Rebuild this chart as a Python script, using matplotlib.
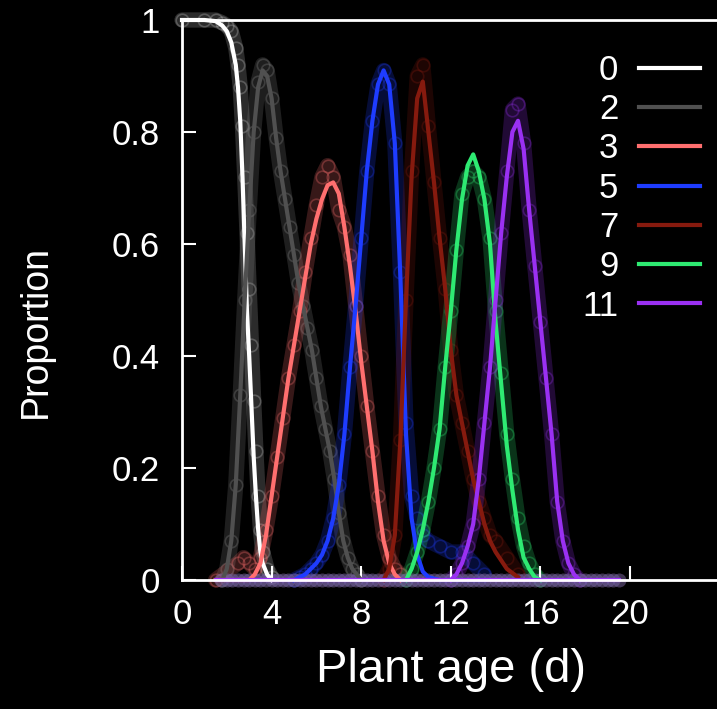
import numpy as np
import matplotlib.pyplot as plt
from matplotlib.lines import Line2D

plt.rcParams['font.family'] = ['Liberation Sans', 'DejaVu Sans']

# Clases de hoja y colores
clases = ['0', '2', '3', '5', '7', '9', '11']
colores = ['#ffffff', '#505050', '#ff6f6f', '#1e3cff', '#861a0e', '#2eea72', '#9a30f2']
colores_puntos = ['#c8c8c8', '#8a8a8a', '#ff6f6f', '#1e3cff', '#861a0e', '#2eea72', '#9a30f2']

# Clase 0
edad_0 = [0, 1.0, 1.5, 1.8, 2.0, 2.2, 2.4, 2.5, 2.6, 2.7, 2.8, 2.9, 3.0, 3.1, 3.2, 3.3, 3.4, 3.5, 3.6, 3.8, 4.0]
ajuste_0 = [1.0, 1.0, 0.998, 0.99, 0.98, 0.96, 0.92, 0.88, 0.82, 0.72, 0.60, 0.48, 0.40, 0.31, 0.22, 0.15, 0.09, 0.05, 0.03, 0.01, 0.0]
puntos_0 = [1.0, 1.0, 1.0, 0.995, 0.99, 0.98, 0.95, 0.92, 0.88, 0.81, 0.72, 0.62, 0.52, 0.42, 0.32, 0.23, 0.15, 0.09, 0.05, 0.02, 0.005]

# Clase 2
edad_2 = [1.8, 2.0, 2.2, 2.4, 2.6, 2.8, 3.0, 3.2, 3.4, 3.6, 3.8, 4.0, 4.2, 4.4, 4.6, 4.8, 5.0, 5.2,
          5.4, 5.6, 5.8, 6.0, 6.2, 6.4, 6.6, 6.8, 7.0, 7.2, 7.4, 7.6, 7.8, 8.0]
ajuste_2 = [0.0, 0.02, 0.07, 0.17, 0.33, 0.5, 0.66, 0.8, 0.88, 0.91, 0.9, 0.86, 0.79, 0.73, 0.68, 0.63, 0.58, 0.53,
            0.49, 0.45, 0.41, 0.36, 0.31, 0.27, 0.23, 0.18, 0.12, 0.07, 0.04, 0.02, 0.01, 0.0]
puntos_2 = [0.0, 0.02, 0.07, 0.17, 0.33, 0.5, 0.66, 0.8, 0.89, 0.92, 0.91, 0.86, 0.79, 0.73, 0.68, 0.63, 0.58, 0.53,
            0.49, 0.45, 0.41, 0.36, 0.31, 0.27, 0.23, 0.18, 0.12, 0.07, 0.04, 0.02, 0.01, 0.0]

# Clase 3
edad_3 = [1.5, 2.5, 2.75, 3.0, 3.25, 3.5, 3.75, 4.0, 4.25, 4.5, 4.75, 5.0, 5.25, 5.5, 5.75, 6.0, 6.25, 6.5, 6.75,
          7.0, 7.25, 7.5, 7.75, 8.0, 8.25, 8.5, 8.75, 9.0, 9.25, 9.5, 9.75]
ajuste_3 = [0.0, 0.0, 0.0, 0.0, 0.01, 0.03, 0.08, 0.15, 0.22, 0.29, 0.36, 0.42, 0.48, 0.54, 0.60, 0.645, 0.68, 0.705, 0.71,
            0.69, 0.63, 0.56, 0.48, 0.39, 0.31, 0.23, 0.14, 0.07, 0.03, 0.01, 0.0]
puntos_3 = [0.0, 0.03, 0.04, 0.03, 0.02, 0.04, 0.09, 0.15, 0.22, 0.29, 0.36, 0.42, 0.48, 0.55, 0.61, 0.67, 0.72, 0.74, 0.72,
            0.66, 0.63, 0.58, 0.49, 0.40, 0.31, 0.23, 0.15, 0.08, 0.04, 0.02, 0.01]

# Clase 5
edad_5 = [5.0, 5.25, 5.5, 5.75, 6.0, 6.25, 6.5, 6.75, 7.0, 7.25, 7.5, 7.75, 8.0, 8.25, 8.5, 8.75, 9.0, 9.25,
          9.5, 9.75, 10.0, 10.25, 10.5, 10.75, 11.0, 11.5, 12.0, 12.5, 13.0, 13.5]
ajuste_5 = [0.0, 0.005, 0.01, 0.02, 0.03, 0.045, 0.07, 0.11, 0.17, 0.26, 0.38, 0.49, 0.61, 0.73, 0.82, 0.885, 0.91, 0.885,
            0.78, 0.54, 0.26, 0.11, 0.045, 0.015, 0.005, 0.0, 0.0, 0.0, 0.0, 0.0]
puntos_5 = [0.0, 0.005, 0.01, 0.02, 0.03, 0.045, 0.07, 0.11, 0.17, 0.26, 0.38, 0.49, 0.61, 0.73, 0.82, 0.885, 0.91, 0.885,
            0.78, 0.55, 0.28, 0.15, 0.11, 0.08, 0.07, 0.06, 0.05, 0.05, 0.03, 0.01]

# Clase 7
edad_7 = [9.0, 9.25, 9.5, 9.75, 10.0, 10.25, 10.5, 10.75, 11.0, 11.25, 11.5, 11.75, 12.0, 12.25, 12.5, 12.75,
          13.0, 13.25, 13.5, 13.75, 14.0, 14.5, 15.0]
ajuste_7 = [0.0, 0.02, 0.08, 0.25, 0.50, 0.72, 0.86, 0.89, 0.80, 0.71, 0.61, 0.52, 0.41, 0.33, 0.28, 0.23,
            0.18, 0.14, 0.10, 0.07, 0.05, 0.02, 0.005]
puntos_7 = [0.0, 0.02, 0.08, 0.25, 0.50, 0.73, 0.90, 0.92, 0.81, 0.71, 0.61, 0.52, 0.41, 0.33, 0.28, 0.23,
            0.18, 0.14, 0.11, 0.08, 0.07, 0.04, 0.01]

# Clase 9
edad_9 = [10.0, 10.25, 10.5, 10.75, 11.0, 11.25, 11.5, 11.75, 12.0, 12.25, 12.5, 12.75, 13.0, 13.25, 13.5,
          13.75, 14.0, 14.25, 14.5, 14.75, 15.0, 15.25, 15.5, 15.75, 16.0]
ajuste_9 = [0.0, 0.02, 0.05, 0.09, 0.14, 0.20, 0.27, 0.38, 0.48, 0.59, 0.68, 0.74, 0.76, 0.73, 0.68,
            0.60, 0.46, 0.35, 0.24, 0.16, 0.09, 0.04, 0.02, 0.005, 0.0]
puntos_9 = [0.0, 0.02, 0.05, 0.09, 0.14, 0.20, 0.27, 0.38, 0.48, 0.59, 0.69, 0.72, 0.73, 0.72, 0.68,
            0.61, 0.48, 0.37, 0.26, 0.18, 0.11, 0.06, 0.03, 0.01, 0.0]

# Clase 11
edad_11 = [12.0, 12.25, 12.5, 12.75, 13.0, 13.25, 13.5, 13.75, 14.0, 14.25, 14.5, 14.75, 15.0, 15.25, 15.5,
           15.75, 16.0, 16.25, 16.5, 16.75, 17.0, 17.25, 17.5, 17.75]
ajuste_11 = [0.0, 0.01, 0.03, 0.06, 0.10, 0.18, 0.28, 0.38, 0.50, 0.62, 0.72, 0.80, 0.82, 0.77, 0.66,
             0.56, 0.46, 0.36, 0.26, 0.14, 0.07, 0.03, 0.01, 0.0]
puntos_11 = [0.0, 0.01, 0.03, 0.06, 0.10, 0.18, 0.28, 0.38, 0.50, 0.62, 0.73, 0.84, 0.85, 0.78, 0.66,
             0.56, 0.46, 0.36, 0.26, 0.14, 0.07, 0.03, 0.01, 0.0]

edades = [edad_0, edad_2, edad_3, edad_5, edad_7, edad_9, edad_11]
ajustes = [ajuste_0, ajuste_2, ajuste_3, ajuste_5, ajuste_7, ajuste_9, ajuste_11]
puntos = [puntos_0, puntos_2, puntos_3, puntos_5, puntos_7, puntos_9, puntos_11]

# Puntos en cero a lo largo del eje
edad_cero = np.arange(1.75, 19.6, 0.25)

fig = plt.figure(figsize=(7.17, 7.09), dpi=100, facecolor='black')
ax = fig.add_axes([182 / 717, 129 / 709, 537.6 / 717, 560 / 709], facecolor='black')

# Datos (circulos transparentes)
for x, y, c in zip(edades, puntos, colores_puntos):
    ax.plot(x, y, '-', color=c, lw=11, alpha=0.22, solid_capstyle='round', zorder=1, clip_on=False)
    ax.plot(x, y, 'o', ms=9, mfc='none', mec=c, mew=1.2, alpha=0.3, zorder=1, clip_on=False)
for c in colores_puntos[2:]:
    ax.plot(edad_cero, np.zeros(len(edad_cero)), 'o', ms=10, color=c, alpha=0.15, mew=0, zorder=1, clip_on=False)

# Curvas ajustadas
for x, y, c in zip(edades, ajustes, colores):
    ax.plot(x, y, '-', color=c, lw=3, zorder=2, clip_on=False)
ax.plot([1.5, 19.5], [0, 0], color=colores[-1], lw=3, zorder=2, clip_on=False)

ax.set_xlim(0, 24)
ax.set_ylim(0, 1)
ax.set_xticks([0, 4, 8, 12, 16, 20])
ax.set_yticks([0, 0.2, 0.4, 0.6, 0.8, 1])
ax.set_yticklabels(['0', '0.2', '0.4', '0.6', '0.8', '1'])
ax.tick_params(direction='in', length=10, width=1.5, colors='white', labelsize=25)
ax.tick_params(axis='y', pad=16)
ax.tick_params(axis='x', pad=13)
for s in ax.spines.values():
    s.set_color('white')
    s.set_linewidth(2)
    s.set_zorder(3)

ax.set_xlabel('Plant age (d)', fontsize=34, color='white')
ax.xaxis.set_label_coords(0.5, -0.122)
ax.set_ylabel('Proportion', fontsize=27, color='white')
ax.yaxis.set_label_coords(-0.238, 0.443)

# Leyenda con la linea a la derecha
lineas = [Line2D([0], [0], color=c, lw=3) for c in colores]
ax.legend(lineas, clases, loc='upper right', bbox_to_anchor=(700 / 717, 1 - 54 / 709),
          bbox_transform=fig.transFigure, frameon=False, fontsize=25, labelcolor='white',
          markerfirst=False, handlelength=1.75, handletextpad=0.6, labelspacing=0.18,
          borderpad=0, borderaxespad=0)

plt.savefig('out.png', dpi=100, facecolor='black')
